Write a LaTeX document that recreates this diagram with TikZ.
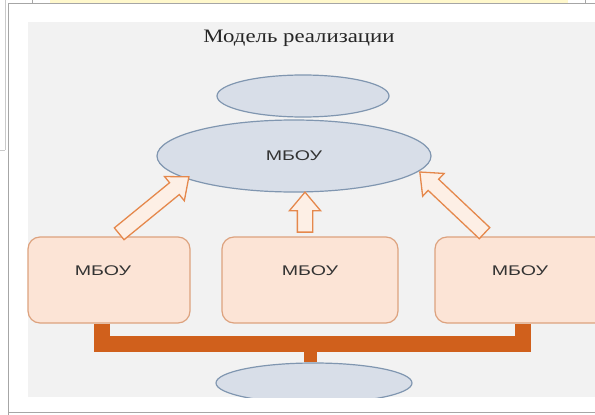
\documentclass[tikz,border=0pt]{standalone}
\usepackage{fontspec}
\setmainfont{Liberation Serif}
\newfontfamily\titlefont[FakeStretch=1.2]{Liberation Serif}
\newfontfamily\boxfont[FakeStretch=1.4]{Liberation Sans}
\usetikzlibrary{shapes.geometric,shapes.arrows}

\definecolor{panelgray}{HTML}{F2F2F2}
\definecolor{ovalfill}{HTML}{D8DEE8}
\definecolor{ovaldraw}{HTML}{8096B0}
\definecolor{boxfill}{HTML}{FCE4D6}
\definecolor{boxdraw}{HTML}{DDA27E}
\definecolor{arrfill}{HTML}{FDEFE5}
\definecolor{arrdraw}{HTML}{E5884C}
\definecolor{barcol}{HTML}{D0601C}
\definecolor{stripyel}{HTML}{FFF8CC}
\definecolor{framegray}{HTML}{A6A6A6}

\tikzset{
  oval/.style={ellipse, draw=ovaldraw, fill=ovalfill, line width=1.2pt, inner sep=0pt},
  schoolbox/.style={rectangle, rounded corners=12pt, draw=boxdraw, fill=boxfill,
    line width=1.2pt, inner sep=0pt, minimum height=86pt},
  blk/.style={single arrow, draw=arrdraw, fill=arrfill, line width=1.3pt,
    inner xsep=0pt, inner ysep=7pt, minimum width=30pt, single arrow head extend=8pt,
    single arrow tip angle=80, sloped, allow upside down, midway},
  bar/.style={draw=barcol, line width=16pt, line join=miter},
  lbl/.style={font=\boxfont\fontsize{14}{16}\selectfont, text=black!80}
}

\begin{document}
\begin{tikzpicture}[x=1pt, y=-1pt]
  \useasboundingbox (0,0) rectangle (595,415);
  % window around the picture
  \fill[white] (0,0) rectangle (595,415);
  \fill[stripyel] (50,0) rectangle (568,3);
  \draw[framegray] (32,0) -- (32,3) (585,0) -- (585,3);
  \draw[framegray, line width=1pt] (8,3.5) -- (595,3.5) (8.5,3) -- (8.5,415)
        (8,412.5) -- (595,412.5);
  \draw[framegray!60, line width=1pt] (5,0) -- (5,150) (0,150) -- (5,150);
  \fill[panelgray] (28,22) rectangle (595,397);

  \node[font=\titlefont\fontsize{19}{22}\selectfont, text=black!85] (title) at (299,38) {Модель реализации};

  % ovals
  \node[oval, minimum width=172pt, minimum height=42pt] (topoval) at (303,96) {};
  \node[oval, minimum width=274pt, minimum height=72pt, lbl] (bigoval) at (294,156) {МБОУ};
  \begin{scope}
    \clip (28,22) rectangle (595,397);
    \node[oval, minimum width=196pt, minimum height=40pt] (botoval) at (314,383) {};
  \end{scope}

  % schools
  \node[schoolbox, minimum width=162pt] (lbox) at (109,280) {};
  \node[schoolbox, minimum width=176pt] (mbox) at (310,280) {};
  \node[schoolbox, minimum width=176pt] (rbox) at (523,280) {};
  \node[lbl] (ltext) at ([xshift=-6pt, yshift=9pt]lbox.center) {МБОУ};
  \node[lbl] (mtext) at ([yshift=9pt]mbox.center) {МБОУ};
  \node[lbl] (rtext) at ([xshift=-3pt, yshift=9pt]rbox.center) {МБОУ};

  % bracket under the schools
  \coordinate (barmid) at (310,343);
  \draw[bar] ([xshift=-7pt]lbox.south) -- ++(0,20) -| (rbox.south);
  \draw[bar, line width=13pt] (barmid) -- (barmid |- botoval.north);

  % arrows up to the big oval
  \coordinate (ltail) at ([xshift=7pt]lbox.north);
  \coordinate (ltip) at (185,180);
  \coordinate (mtail) at ([xshift=-5pt]mbox.north);
  \coordinate (mtip) at (305,197);
  \coordinate (rtail) at ([xshift=-35pt]rbox.north);
  \coordinate (rtip) at (423,175);
  \path (ltail) -- node[blk, minimum height=90pt] (larr) {} (ltip);
  \path (mtail) -- node[blk, minimum height=40pt] (marr) {} (mtip);
  \path (rtail) -- node[blk, minimum height=89pt] (rarr) {} (rtip);
\end{tikzpicture}
\end{document}
